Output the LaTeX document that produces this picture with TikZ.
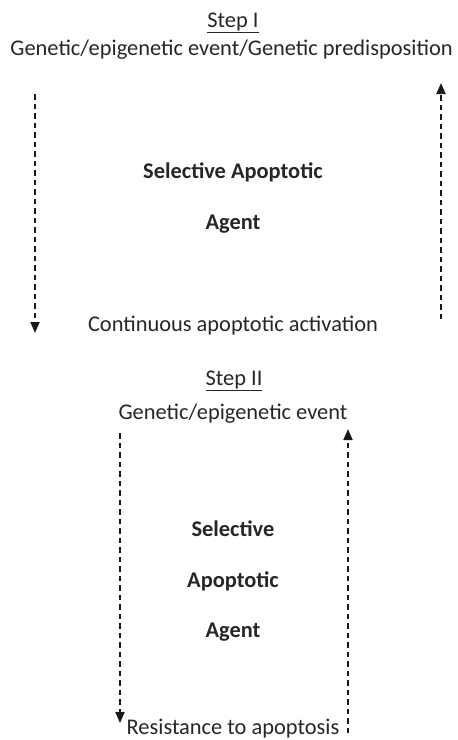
\documentclass[tikz,border=0pt]{standalone}
\usepackage{fontspec}
\setmainfont{Carlito}
\usetikzlibrary{arrows.meta}
\begin{document}
\begin{tikzpicture}[x=1pt,y=-1pt,
  txt/.style={inner sep=0pt,anchor=base,font=\fontsize{22.4}{24}\selectfont,text=black!85},
  bld/.style={txt,font=\fontsize{22.4}{24}\selectfont\bfseries},
  flow/.style={draw=black!90,line width=1.8pt,dash pattern=on 5.5pt off 4pt,-{Triangle[length=11pt,width=9pt]}}]
\useasboundingbox (0,0) rectangle (458,740);
\node[txt] (s1) at (233,27) {\underline{Step I}};
\node[txt] (g1) at (231.5,55) {Genetic/epigenetic event/Genetic predisposition};
\node[bld] (a1) at (233,178) {Selective Apoptotic};
\node[bld] (b1) at (233,229) {Agent};
\node[txt] (c1) at (233,331) {Continuous apoptotic activation};
\coordinate (l1t) at (35,94);
\coordinate (l1b) at (35,333);
\coordinate (r1b) at (441,319);
\coordinate (r1t) at (441,83);
\draw[flow] (l1t) -- (l1b);
\draw[flow] (r1b) -- (r1t);
\node[txt] (s2) at (234,385) {\underline{Step II}};
\node[txt] (g2) at (233,419) {Genetic/epigenetic event};
\node[bld] (a2) at (233,536) {Selective};
\node[bld] (b2) at (233,587) {Apoptotic};
\node[bld] (c2) at (233,637) {Agent};
\node[txt] (r2) at (233,734) {Resistance to apoptosis};
\coordinate (l2t) at (120,433);
\coordinate (l2b) at (120,723);
\coordinate (r2b) at (348,733);
\coordinate (r2t) at (348,429);
\draw[flow] (l2t) -- (l2b);
\draw[flow] (r2b) -- (r2t);
\end{tikzpicture}
\end{document}
